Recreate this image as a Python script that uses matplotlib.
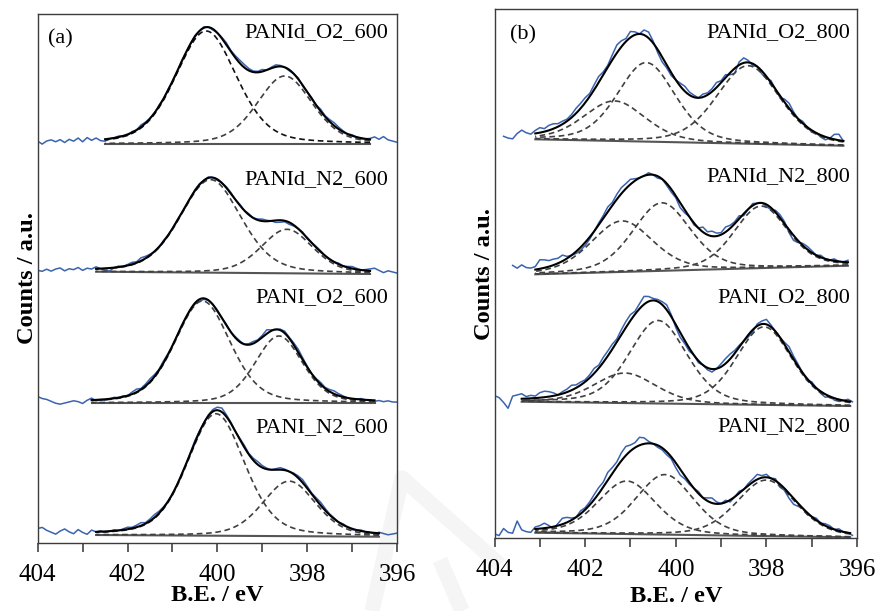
import numpy as np
import matplotlib
matplotlib.use('Agg')
import matplotlib.pyplot as plt
from matplotlib.lines import Line2D

plt.rcParams['font.family'] = ['Liberation Serif', 'DejaVu Serif']

# ---- panel (a): 600 C samples ----
names_a = ['PANId_O2_600', 'PANId_N2_600', 'PANI_O2_600', 'PANI_N2_600']
fit_from_a = [402.5, 402.7, 402.8, 402.7]
fit_to_a = [396.6, 396.6, 396.5, 396.4]
base_l_a = [399, 271.3, 140, 8]
base_r_a = [399, 269, 140, 6.3]
cen_a = [[400.25, 398.5], [400.15, 398.45], [400.33, 398.63], [400.03, 398.4]]
hgt_a = [[113, 68], [93, 44], [102, 67], [122, 55]]
fwhm_a = [[1.6, 1.45], [1.6, 1.35], [1.45, 1.25], [1.5, 1.4]]
raw_from_a = [404.0, 404.0, 404.0, 404.0]
# raw spectrum minus fit, every 0.1 eV from raw_from
resid_a = [
    [1, -2, 1, 2, 0, 2, -1, 2, 0, 3, -1, 3, 0, 2, -1, -2,
     0, 0, 1, 0, -1, 1, 0, 2, 1, 0,
     -1, 1, 0, 1, 0, -1, 1, 0, 0, 1,
     0, 1, 0, -1, 0, 1, 2, 1, 2, 3,
     3, 2, 1, 1, 2, 0, 1, 2, 1, 0,
     -1, 0, 1, -1, 0, 1, 0, 2, 1, 2,
     3, 2, 1, 0, 1, 0, -1, 0, 1, 3,
     1, 4, 1, 0, -1],
    [0, -1, 1, -1, 1, 2, -1, 1, 0, 2, -1, 1, 0, 2, 0, -2,
     -3, 0, 1, 0, 1, 2, 1, 3, 2, 1,
     0, -1, 1, 0, 0, 1, 0, -1, 0, 1,
     1, 0, 1, 0, -1, 0, 1, 1, 0, 1,
     0, 1, 0, 1, 2, 1, 0, -2, -2, -1,
     -2, -1, 0, 1, -1, 0, 1, 1, 0, -1,
     0, 1, 0, 1, 2, 1, 0, 1, 2, 3,
     1, -1, 1, 0, -1],
    [5, 3, 2, 0, -2, -3, -2, -1, 0, -1, -3, 0, 2, -1, 0, -1,
     0, 1, 0, 1, 0, 2, 3, 1, 2, 3,
     2, 1, 2, 1, 0, 0, 1, 0, -1, -1,
     -2, -1, 0, 0, -1, 0, 1, 0, 1, 1,
     0, 1, 2, 1, 2, 4, 1, 0, 1, 2,
     1, 2, 3, 2, 1, 0, 1, 2, 1, 2,
     3, 2, 1, 0, -1, 0, 1, 0, 0, -1,
     0, -1, 0, -1, -1],
    [5, 6, 3, 1, -1, 2, 4, 1, -1, 3, 0, -2, 2, 0, 1, -1,
     0, 1, 0, 1, 2, 1, 2, 3, 1, 2,
     3, 2, 1, 0, -1, 0, 1, 0, 1, 2,
     1, 0, 1, 2, 3, 4, 2, 1, 0, 1,
     2, 1, 2, 3, 2, 1, 0, 1, 2, 1,
     0, 1, 2, 3, 2, 1, 2, 3, 2, 1,
     1, 0, 1, 0, -1, 0, 1, 0, 0, -1,
     1, 0, -1, 0, 1],
]
label_y_a = [510, 363, 245, 115]

# ---- panel (b): 800 C samples ----
names_b = ['PANId_O2_800', 'PANId_N2_800', 'PANI_O2_800', 'PANI_N2_800']
fit_from_b = [403.1, 403.1, 403.4, 403.1]
fit_to_b = [396.3, 396.2, 396.15, 396.15]
base_l_b = [398.7, 263.7, 136.3, 5.3]
base_r_b = [392.3, 272.3, 132, 0.7]
cen_b = [[401.35, 400.65, 398.4], [401.19, 400.31, 398.12],
         [401.12, 400.39, 398.05], [401.08, 400.24, 398.0]]
hgt_b = [[40, 79, 78], [51, 68, 62], [30, 83, 78], [53, 60, 56]]
fwhm_b = [[1.6, 1.5, 1.65], [1.6, 1.5, 1.4], [1.6, 1.5, 1.45], [1.5, 1.5, 1.55]]
raw_from_b = [403.8, 403.6, 404.0, 404.0]
resid_b = [
    [0, -2, -3, 2, 5, 2, 0,
     3, 5, 3, 5, 5, 3, 3, 2, 3, 5,
     5, 5, 3, 5, 6, 3, 2, 5, 8, 6,
     3, 6, 3, 0, 5, 6, 2, -3, -5, -3,
     -3, 0, 3, 5, 3, 2, 0, 3, 2, 3,
     5, 2, 3, -2, -5, 3, 5, 2, -2, 0,
     -3, -2, 2, 0, -2, 3, 5, 2, 0, 2,
     0, -2, 0, -2, -3, 0, 5, 6, 0],
    [6, 3, 6, 3, 2,
     3, 9, 8, 6, 6, 5, 6, 2, 0, -2,
     -3, -3, -2, 0, 2, 3, 5, 3, 5, 6,
     5, 5, 2, 0, 0, 2, 0, -2, 0, -2,
     -3, -2, -5, -3, 0, -2, 0, 5, 3, 5,
     3, 2, 5, 3, 2, 3, -2, 0, 2, 0,
     0, -2, -2, 2, 3, 2, -3, -5, -2, 2,
     3, 2, 0, 2, 0, 0, 2, 0, 0, 2],
    [4, 2, -3, -9, 3, 4,
     5, 2, 3, 2, 5, 6, 5, 3, 0, 2,
     3, 5, 3, 3, 2, 3, 5, 3, 5, 5,
     5, 3, 5, 6, 6, 3, 5, 8, 5, 2,
     2, 3, 5, 2, -3, -5, -3, -3, 0, -2,
     0, -2, -3, 0, 3, 5, 5, 3, 2, 0,
     -2, -2, 2, 3, 5, 2, 0, 0, 2, 5,
     3, 2, 0, -2, 2, 0, -2, -3, 0, -2,
     -2, 0, 2, 0],
    [-3, -5, 2, -2, -3, 9,
     0, -2, -3, 2, 3, 5, 2, -2, 2, 6,
     5, 2, 0, 3, 2, 3, 5, 6, 5, 8,
     6, 5, 8, 9, 6, 5, 8, 6, 2, 0,
     -2, -2, -3, -2, -5, -6, -3, -2, 0, 2,
     0, 3, 5, 2, 0, 2, -2, 0, 2, 0,
     2, 3, 5, 2, 3, 0, 2, -3, -2, -5,
     -6, -3, 0, -2, 0, 2, 0, 2, 2, 0,
     2, 0, 0, -2],
]
label_y_b = [505, 361, 240, 111]

BLUE = '#3a63b0'


def gl(x, c, h, w, m=0.3):
    # gaussian-lorentzian sum peak
    u = (x - c) / w
    return h * ((1 - m) * np.exp(-4 * np.log(2) * u ** 2) + m / (1 + 4 * u ** 2))


def draw_panel(ax, names, fit_from, fit_to, base_l, base_r, cen, hgt, fwhm,
               raw_from, resid, label_y, tag, tag_x, tag_y, lab_x, ymax):
    for k in range(len(names)):
        def base(x):
            return np.interp(x, [fit_to[k], fit_from[k]], [base_r[k], base_l[k]])

        def model(x):
            return sum(gl(x, c, h, w) for c, h, w in zip(cen[k], hgt[k], fwhm[k]))

        xr = raw_from[k] - 0.1 * np.arange(len(resid[k]))
        yr = base(xr) + model(xr) + np.array(resid[k])
        ax.plot(xr, yr, color=BLUE, lw=1.1, zorder=2)

        xf = np.linspace(fit_to[k], fit_from[k], 400)
        ax.plot([fit_to[k], fit_from[k]], [base_r[k], base_l[k]],
                color='#555555', lw=1.5, zorder=3)
        for j, (c, h, w) in enumerate(zip(cen[k], hgt[k], fwhm[k])):
            col = '#111111' if (tag == '(a)' and k == 0 and j == 0) else '#404040'
            ax.plot(xf, base(xf) + gl(xf, c, h, w), color=col, lw=1.2,
                    dashes=(3.4, 2.2), zorder=4)
        ax.plot(xf, base(xf) + model(xf), color='black', lw=1.5, zorder=5)

        ax.text(lab_x, label_y[k], names[k], transform=ax.get_yaxis_transform(),
                ha='right', va='center', fontsize=16)

    ax.text(tag_x, tag_y, tag, transform=ax.get_yaxis_transform(),
            ha='left', va='center', fontsize=16)
    ax.set_xlim(404, 396)
    ax.set_ylim(0, ymax)
    ax.set_xticks([404, 402, 400, 398, 396])
    ax.set_xticks([403, 401, 399, 397], minor=True)
    ax.set_yticks([])
    ax.tick_params(axis='x', which='major', direction='out', length=6.2,
                   width=1.1, labelsize=18, pad=9, color='#333333')
    ax.tick_params(axis='x', which='minor', direction='out', length=6.2,
                   width=1.1, color='#333333')
    for s in ax.spines.values():
        s.set_color('#3c3c3c')
        s.set_linewidth(1.0)
    ax.set_facecolor('none')
    ax.set_xlabel('B.E. / eV', fontsize=17.6, fontweight='bold')
    ax.set_ylabel('Counts / a.u.', fontsize=17.6, fontweight='bold')


W, H = 880, 611
fig = plt.figure(figsize=(8.8, 6.11), dpi=100)

# faint watermark strokes behind the plots
for pts in [[(372, 611), (402, 478), (500, 565)], [(440, 560), (462, 611)]]:
    fig.add_artist(Line2D([p[0] / W for p in pts], [1 - p[1] / H for p in pts],
                          transform=fig.transFigure, color='#f5f5f5', lw=11,
                          zorder=-1, solid_capstyle='butt'))

ax_a = fig.add_axes([37.7 / W, 1 - 543 / H, (397 - 37.7) / W, (543 - 14) / H])
ax_b = fig.add_axes([494.5 / W, 1 - 538 / H, (857 - 494.5) / W, (538 - 9.3) / H])

draw_panel(ax_a, names_a, fit_from_a, fit_to_a, base_l_a, base_r_a, cen_a, hgt_a,
           fwhm_a, raw_from_a, resid_a, label_y_a, '(a)', 0.029, 504, 0.975, 529)
draw_panel(ax_b, names_b, fit_from_b, fit_to_b, base_l_b, base_r_b, cen_b, hgt_b,
           fwhm_b, raw_from_b, resid_b, label_y_b, '(b)', 0.043, 503, 0.981, 528.7)

ax_a.yaxis.set_label_coords(0.0, 0.5)
ax_b.yaxis.set_label_coords(0.0, 0.5)
ax_a.xaxis.set_label_coords(0.5, -0.08)
ax_b.xaxis.set_label_coords(0.5, -0.091)

fig.savefig('out.png', dpi=100)
